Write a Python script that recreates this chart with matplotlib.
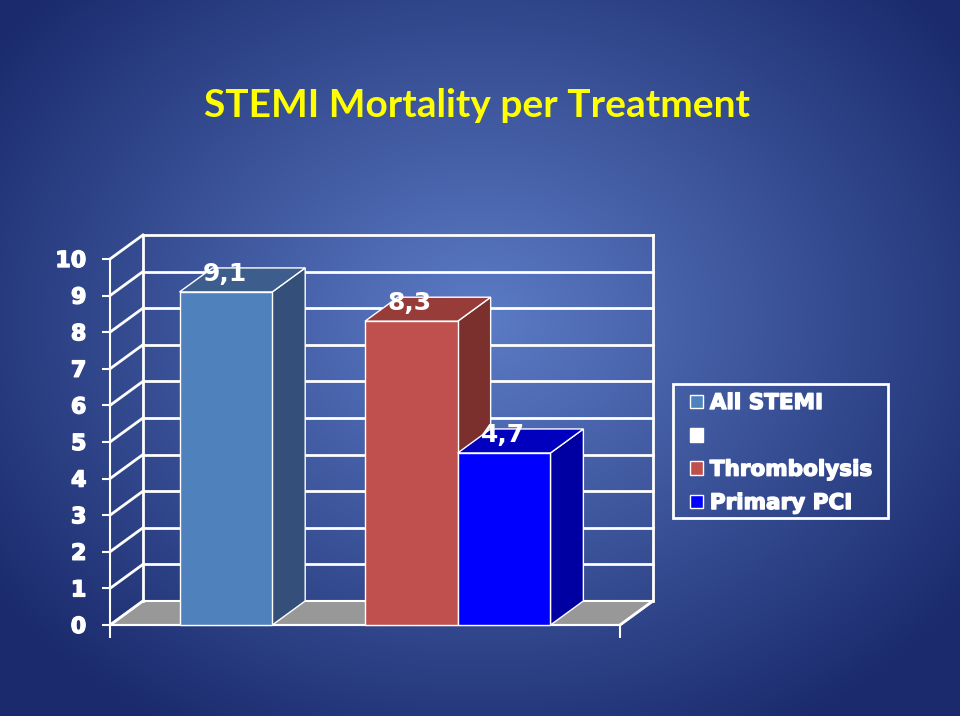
import numpy as np
import matplotlib.pyplot as plt
from matplotlib.patches import Rectangle, Polygon, Patch
import matplotlib.patheffects as pe

# data
title = 'STEMI Mortality per Treatment'
bar_names = ['All STEMI', 'Thrombolysis', 'Primary PCI']
mortality = [9.1, 8.3, 4.7]
legend_labels = ['All STEMI', '', 'Thrombolysis', 'Primary PCI']
legend_colors = ['#4F81BD', '#FFFFFF', '#C0504D', '#0000FF']
yticks = list(range(0, 11))

# colours of the 3d faces: front, top, side
front_colors = ['#4F81BD', '#C0504D', '#0000FF']
top_colors = ['#3D5E8D', '#983C3A', '#0000BE']
side_colors = ['#34507A', '#7B302E', '#0000A2']

# layout (bar units along x, value units along y)
bar_left = [0.75, 2.75, 3.75]
bar_w = 1.0
x_max = 5.5
DX, DY = 0.355, 0.656   # depth of the 3d box

heavy = [pe.withStroke(linewidth=1.0, foreground='white')]

fig = plt.figure(figsize=(9.6, 7.16), dpi=100)

# background radial gradient
bg = fig.add_axes([0, 0, 1, 1], zorder=-10)
yy, xx = np.mgrid[0:716, 0:960]
r = np.sqrt(((xx - 480) / 600.0) ** 2 + ((yy - 320) / 480.0) ** 2)
r = np.clip(r, 0, 1)[..., None]
c_in = np.array([92, 124, 198]) / 255.0
c_out = np.array([26, 42, 108]) / 255.0
img = c_in * (1 - r) + c_out * r
bg.imshow(img, aspect='auto', extent=[0, 1, 0, 1])
bg.axis('off')

ax = fig.add_axes([110 / 960, 91 / 716, 510 / 960, 366 / 716])
ax.set_xlim(0, x_max)
ax.set_ylim(0, 10)
ax.patch.set_alpha(0)

wl = dict(color='white', lw=2, clip_on=False, zorder=1)

# floor
ax.add_patch(Polygon([(0, 0), (x_max, 0), (x_max + DX, DY), (DX, DY)],
                     closed=True, facecolor='#989898', edgecolor='white',
                     lw=1.5, clip_on=False, zorder=1))

# back wall grid + side wall diagonals
for v in yticks:
    if v > 0:
        ax.plot([DX, x_max + DX], [v + DY, v + DY], **wl)
    ax.plot([0, DX], [v, v + DY], **wl)
ax.plot([DX, DX], [DY, 10 + DY], **wl)
ax.plot([x_max + DX, x_max + DX], [DY, 10 + DY], **wl)
ax.plot([x_max, x_max + DX], [0, DY], **wl)

# 3d bars
for i, v in enumerate(mortality):
    x0 = bar_left[i]
    x1 = x0 + bar_w
    kw = dict(edgecolor='white', lw=1, clip_on=False, zorder=3 + i)
    ax.add_patch(Polygon([(x1, 0), (x1 + DX, DY), (x1 + DX, v + DY), (x1, v)],
                         facecolor=side_colors[i], **kw))
    ax.add_patch(Polygon([(x0, v), (x1, v), (x1 + DX, v + DY), (x0 + DX, v + DY)],
                         facecolor=top_colors[i], **kw))
    ax.add_patch(Rectangle((x0, 0), bar_w, v, facecolor=front_colors[i], **kw))
    ax.annotate(f'{v:.1f}'.replace('.', ','), (x0 + bar_w / 2, v),
                xytext=(-1, 13), textcoords='offset points',
                ha='center', va='center', color='white', fontsize=18,
                fontweight='bold', zorder=10, annotation_clip=False)

# axes lines and ticks
for s in ['top', 'right']:
    ax.spines[s].set_visible(False)
for s in ['left', 'bottom']:
    ax.spines[s].set_color('white')
    ax.spines[s].set_linewidth(1.5)
    ax.spines[s].set_zorder(2)
ax.set_yticks(yticks)
ax.set_xticks([0, x_max])
ax.set_xticklabels([])
ax.tick_params(axis='y', colors='white', length=6, width=1.5, pad=11,
               labelsize=16)
ax.tick_params(axis='x', colors='white', length=9, width=1.5)
for t in ax.get_yticklabels():
    t.set_fontweight('bold')
    t.set_path_effects(heavy)

# title
fig.text(477 / 960, 1 - 117 / 716, title, ha='center', va='baseline',
         color='#FFFF00', fontsize=28, fontweight='bold', family='Lato')

# legend (frame drawn separately so its padding can match)
handles = [Patch(facecolor=c, edgecolor='white', lw=1) for c in legend_colors]
leg = fig.legend(handles, legend_labels, loc='upper left',
                 bbox_to_anchor=(690 / 960, 1 - 393 / 716),
                 frameon=False, prop={'weight': 'bold', 'size': 15.5},
                 labelcolor='white', handlelength=0.62, handleheight=0.6,
                 handletextpad=0.3, labelspacing=0.62, borderpad=0,
                 borderaxespad=0)
for t in leg.get_texts():
    t.set_path_effects(heavy)
fig.add_artist(Rectangle((673 / 960, 1 - 518 / 716), 215 / 960, 134 / 716,
                         transform=fig.transFigure, fill=False,
                         edgecolor='white', lw=2))

fig.savefig('out.png', dpi=100)
